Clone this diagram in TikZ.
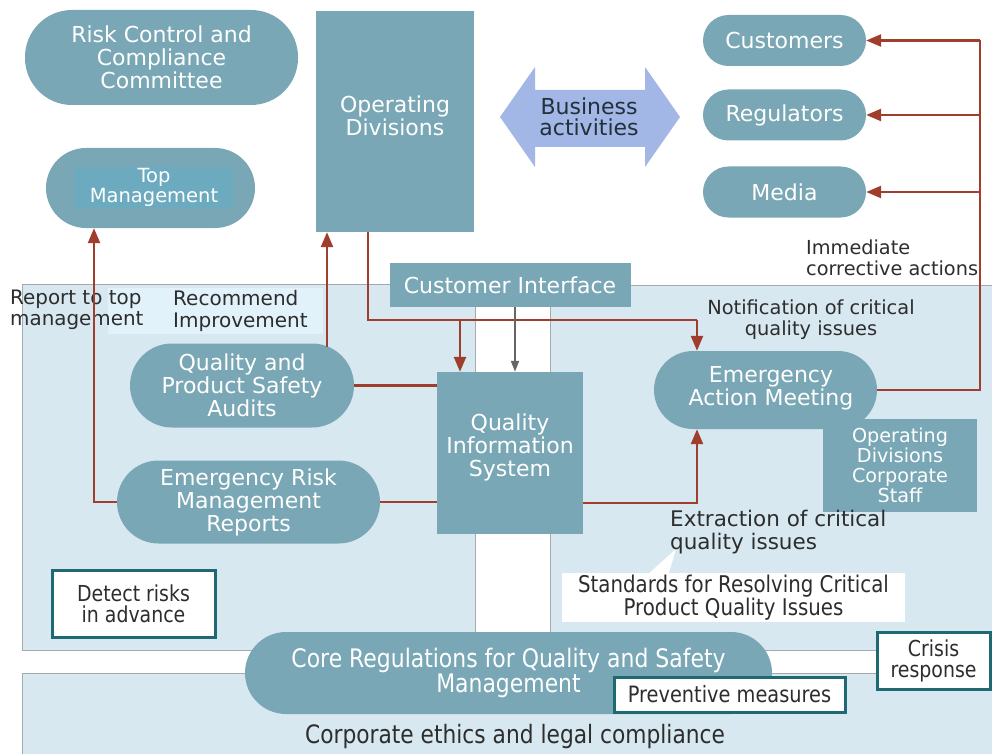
\documentclass[tikz,border=0pt]{standalone}
\usepackage{fontspec}
\setmainfont{DejaVu Sans}
\newfontfamily\cf[FakeStretch=0.86]{DejaVu Sans}
\usetikzlibrary{arrows.meta}
\definecolor{nfill}{RGB}{121,167,181}
\definecolor{tminner}{RGB}{108,170,192}
\definecolor{panel}{RGB}{216,232,240}
\definecolor{lightp}{RGB}{226,242,251}
\definecolor{arr}{RGB}{160,62,45}
\definecolor{bord}{RGB}{30,105,115}
\definecolor{biz}{RGB}{162,183,230}
\definecolor{txt}{RGB}{45,45,45}
\definecolor{pline}{RGB}{165,170,172}
\begin{document}
\begin{tikzpicture}[x=1pt,y=-1pt,
  stad/.style={fill=nfill, draw=none, text=white, align=center, inner sep=0pt,
    font=\fontsize{22}{23}\selectfont},
  rbox/.style={fill=nfill, draw=none, text=white, align=center, inner sep=0pt,
    font=\fontsize{22}{23}\selectfont},
  wtxt/.style={text=white, align=center, inner sep=0pt, font=\fontsize{22}{23}\selectfont},
  wbox/.style={fill=white, draw=bord, line width=3pt, text=txt, align=center, inner sep=0pt,
    font=\cf\fontsize{22}{21}\selectfont},
  dtxt/.style={text=txt, inner sep=0pt, font=\fontsize{19.5}{21}\selectfont},
  conn/.style={draw=arr, line width=2.4pt},
  gconn/.style={draw=black!60, line width=2pt, -{Triangle[length=11pt,width=8pt]}},
  tip/.style={-{Triangle[length=15pt,width=12pt]}},
  panelbox/.style={fill=panel, draw=pline, line width=0.8pt}
]
\useasboundingbox (0,0) rectangle (992,754);
\fill[white] (0,0) rectangle (992,754);

% background panels
\draw[panelbox] (22,284) rectangle (475,650);
\draw[panelbox] (550,285) rectangle (1000,650);
\draw[panelbox] (22,673) rectangle (1000,760);
\fill[lightp] (108,288) rectangle (323,334);

% top area
\node[stad, minimum width=273pt, minimum height=95pt, rounded corners=47pt] (rcc) at (161.5,57.5) {Risk Control and\\Compliance\\Committee};
\node[stad, minimum width=209pt, minimum height=80pt, rounded corners=40pt] (tm) at (150.5,188) {};
\node[fill=tminner, text=white, align=center, inner sep=0pt, minimum width=158pt, minimum height=41pt,
  font=\fontsize{19.5}{20}\selectfont] (tmi) at (154,187.5) {Top\\Management};
\node[rbox, minimum width=158pt, minimum height=221pt] (od) at (395,121.5) {};
\node[wtxt] (odt) at (395,116) {Operating\\Divisions};

\fill[biz] (500,117) -- (535,67) -- (535,90) -- (645,90) -- (645,67) -- (680,117)
  -- (645,167) -- (645,147) -- (535,147) -- (535,167) -- cycle;
\node[text={rgb,255:red,34;green,48;blue,58}, align=center, inner sep=0pt, font=\fontsize{22}{21.5}\selectfont] (biz) at (589,117) {Business\\activities};

\node[stad, minimum width=163pt, minimum height=51pt, rounded corners=25.5pt] (cu) at (784.5,40.5) {Customers};
\node[stad, minimum width=163pt, minimum height=51pt, rounded corners=25.5pt] (re) at (784.5,115) {Regulators};
\node[stad, minimum width=163pt, minimum height=51pt, rounded corners=25.5pt] (me) at (784.5,192) {Media};

% middle area
\node[rbox, minimum width=241pt, minimum height=44pt] (ci) at (510,285) {Customer Interface};
\node[rbox, minimum width=146pt, minimum height=162pt] (qis) at (510,453) {};
\node[wtxt] (qist) at (510,447) {Quality\\Information\\System};
\node[stad, minimum width=224pt, minimum height=84pt, rounded corners=42pt] (qa) at (242,385.5) {Quality and\\Product Safety\\Audits};
\node[stad, minimum width=263pt, minimum height=83pt, rounded corners=41.5pt] (erm) at (248.5,502) {Emergency Risk\\Management\\Reports};
\node[stad, minimum width=223pt, minimum height=78pt, rounded corners=39pt] (eam) at (765.5,390) {};
\node[wtxt] (eamt) at (771,388) {Emergency\\Action Meeting};
\node[rbox, minimum width=154pt, minimum height=93pt, font=\fontsize{19.2}{20}\selectfont] (odcs) at (900,465.5) {Operating\\Divisions\\Corporate\\Staff};

% bottom area
\fill[white] (646,576) -- (668,576) -- (676,549) -- cycle;
\node[fill=white, text=txt, align=center, inner sep=0pt, minimum width=343pt, minimum height=49pt,
  font=\cf\fontsize{23}{21}\selectfont] (st) at (733.5,597.5) {Standards for Resolving Critical\\Product Quality Issues};
\node[wbox, minimum width=163pt, minimum height=67pt] (dr) at (133.5,603.5) {Detect risks\\in advance};
\node[stad, minimum width=527pt, minimum height=82pt, rounded corners=41pt, font=\cf\fontsize{25.5}{23}\selectfont] (core) at (508.5,673) {Core Regulations for Quality and Safety\\Management};
\node[wbox, minimum width=231pt, minimum height=35pt, font=\cf\fontsize{22.5}{21}\selectfont] (pm) at (729.5,694.5) {Preventive measures};
\node[wbox, minimum width=113pt, minimum height=57pt] (cr) at (933.5,660.5) {Crisis\\response};
\node[text=txt, inner sep=0pt, font=\cf\fontsize{25.3}{24}\selectfont] (ce) at (515,737) {Corporate ethics and legal compliance};

% labels
\node[dtxt, align=left, anchor=west, font=\fontsize{19.9}{20.5}\selectfont] (lrt) at (10,310) {Report to top\\management};
\node[dtxt, align=left, anchor=west, font=\fontsize{20}{22}\selectfont] (lri) at (173,311) {Recommend\\Improvement};
\node[dtxt, align=left, anchor=west, font=\fontsize{19.3}{21}\selectfont] (lim) at (806,258) {Immediate\\corrective actions};
\node[dtxt, align=center, font=\fontsize{19.4}{21}\selectfont] (lno) at (811,320) {Notification of critical\\quality issues};
\node[dtxt, align=left, anchor=west, font=\fontsize{21.5}{23}\selectfont] (lex) at (670,532) {Extraction of critical\\quality issues};

% connectors
\coordinate (rt) at (94,502);
\draw[conn, tip] (erm.west) -- (rt) -- (rt |- tm.south);
\coordinate (ru) at (327,347);
\draw[conn, tip] (ru) -- (ru |- od.south);
\coordinate (d1) at (368,320);
\coordinate (d2) at (697,320);
\coordinate (d3) at (460,320);
\draw[conn] (d1 |- od.south) -- (d1) -- (d2);
\draw[conn, tip] (d2) -- (d2 |- eam.north);
\draw[conn, tip] (d3) -- (d3 |- qis.north);
\draw[gconn] ([xshift=5pt]ci.south) -- ([xshift=5pt]qis.north);
\draw[conn] (qa.east) -- (qa.east -| qis.west);
\draw[conn] (erm.east) -- (erm.east -| qis.west);
\coordinate (e1) at (697,503);
\draw[conn, tip] (qis.east |- e1) -- (e1) -- (e1 |- eam.south);
\coordinate (r1) at (980,40.5);
\coordinate (r2) at (980,115);
\coordinate (r3) at (980,192);
\draw[conn] (eam.east) -| (r1);
\draw[conn, tip] (r1) -- (cu.east);
\draw[conn, tip] (r2) -- (re.east);
\draw[conn, tip] (r3) -- (me.east);
\end{tikzpicture}
\end{document}
